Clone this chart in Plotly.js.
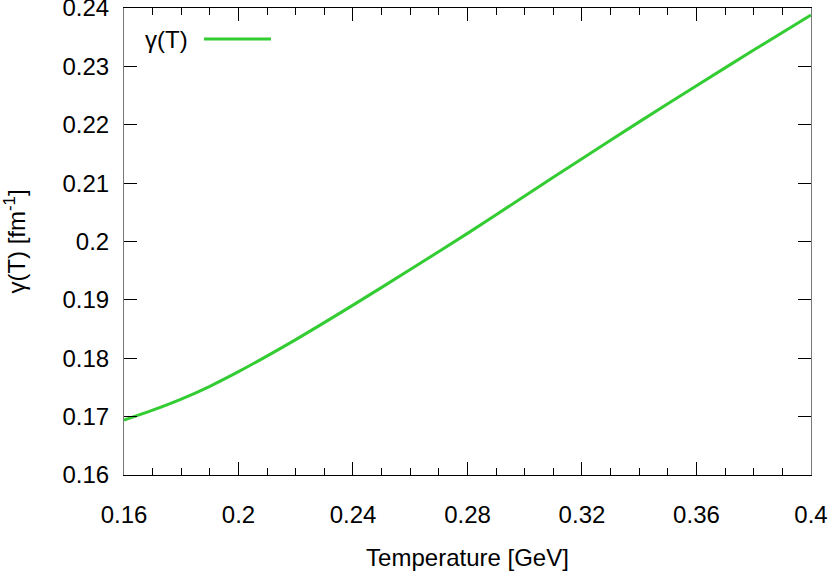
<!DOCTYPE html>
<html>
<head>
<meta charset="utf-8">
<script src="https://cdn.plot.ly/plotly-3.0.1.min.js"></script>
<style>
  html, body { margin: 0; padding: 0; background: #fff; }
  #gamma-plot { width: 830px; height: 576px; }
</style>
</head>
<body>
<div id="gamma-plot"></div>
<script>
// temperature in GeV, gamma in fm^-1
var temperature = [0.16, 0.17, 0.18, 0.19, 0.20, 0.22, 0.24, 0.26, 0.28, 0.30, 0.32, 0.34, 0.36, 0.38, 0.40];
var gammaT = [0.1694, 0.1711, 0.1730, 0.1752, 0.1777, 0.1832, 0.1891, 0.1952, 0.2014, 0.2078, 0.2142, 0.2205, 0.2267, 0.2328, 0.2388];

var xTicks = [0.16, 0.2, 0.24, 0.28, 0.32, 0.36, 0.4];
var yTicks = [0.16, 0.17, 0.18, 0.19, 0.2, 0.21, 0.22, 0.23, 0.24];

var fontFam = 'Liberation Sans, Arial, sans-serif';
var curveColor = '#33cc33';

var trace1 = {
  x: temperature,
  y: gammaT,
  mode: 'lines',
  line: {color: curveColor, width: 3, shape: 'spline', smoothing: 0.8},
  name: 'γ(T)',
  showlegend: false
};

var layout = {
  width: 830,
  height: 576,
  margin: {l: 124, r: 19, t: 8, b: 101},
  paper_bgcolor: '#fff',
  plot_bgcolor: '#fff',
  font: {family: fontFam, size: 24, color: '#000'},
  xaxis: {
    range: [0.16, 0.40001],
    tickvals: xTicks,
    ticktext: xTicks.map(String),
    ticks: 'inside',
    ticklen: 13,
    tickcolor: '#000',
    ticklabelstandoff: 18,
    ticklabeloverflow: 'allow',
    minor: {dtick: 0.01, tick0: 0.16, ticks: 'inside', ticklen: 7, tickcolor: '#000'},
    showline: true,
    linecolor: '#000',
    mirror: 'ticks',
    showgrid: false,
    zeroline: false,
    title: {text: 'Temperature [GeV]', standoff: 22, font: {size: 24}}
  },
  yaxis: {
    range: [0.16, 0.24001],
    tickvals: yTicks,
    ticktext: yTicks.map(String),
    ticks: 'inside',
    ticklen: 13,
    tickcolor: '#000',
    ticklabelstandoff: 9,
    ticklabeloverflow: 'allow',
    showline: true,
    linecolor: '#777',
    mirror: 'ticks',
    showgrid: false,
    zeroline: false,
    title: {text: 'γ(T) [fm<sup>-1</sup>]', standoff: 34, font: {size: 24}}
  },
  annotations: [{
    xref: 'paper', yref: 'paper',
    x: 0.028, y: 0.9315,
    xanchor: 'left', yanchor: 'middle',
    text: 'γ(T)',
    showarrow: false,
    font: {size: 24}
  }],
  shapes: [{
    type: 'line',
    xref: 'paper', yref: 'paper',
    x0: 0.1164, x1: 0.214,
    y0: 0.9336, y1: 0.9336,
    line: {color: curveColor, width: 3}
  }]
};

Plotly.newPlot('gamma-plot', [trace1], layout, {displayModeBar: false, staticPlot: true});
</script>
</body>
</html>
